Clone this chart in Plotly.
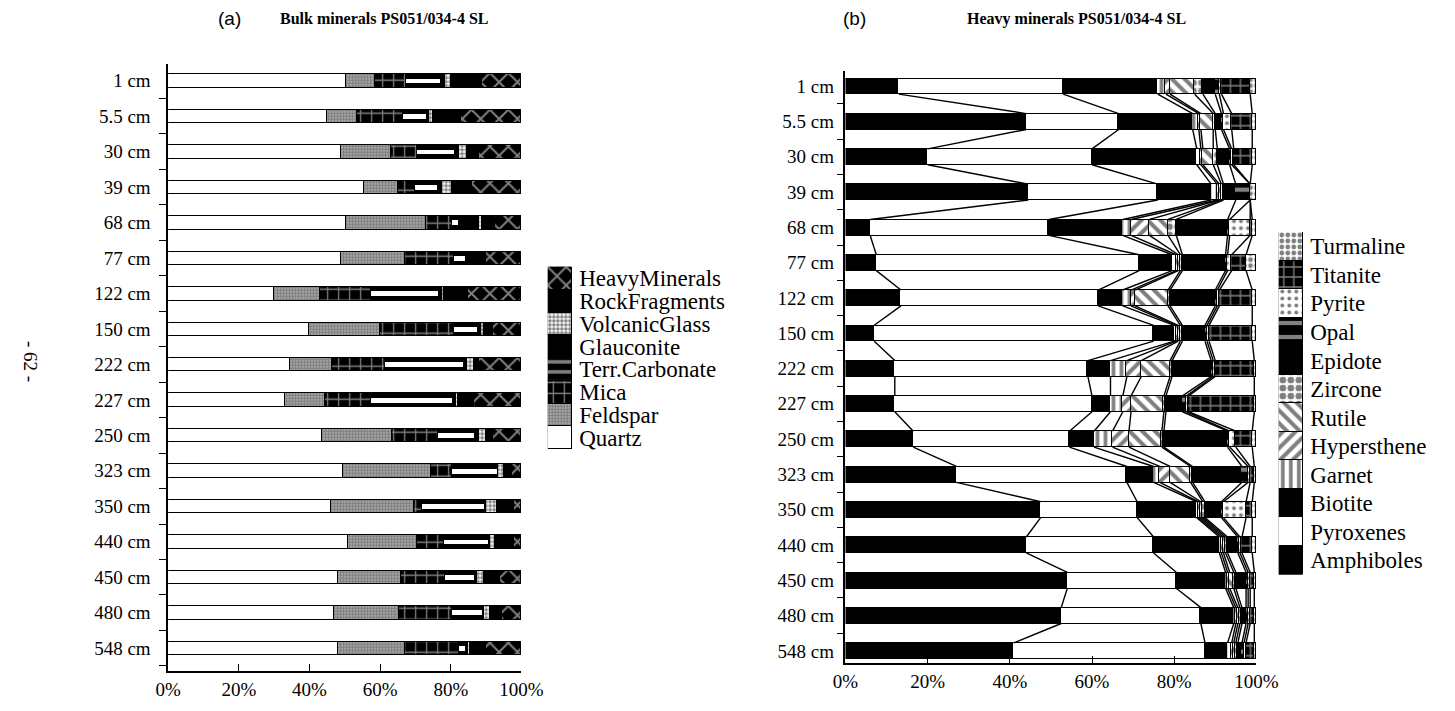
import numpy as np
import plotly.graph_objects as go

W, H = 1455, 711

# ---- data -----------------------------------------------------------------
depths = ["1 cm", "5.5 cm", "30 cm", "39 cm", "68 cm", "77 cm", "122 cm", "150 cm",
          "222 cm", "227 cm", "250 cm", "323 cm", "350 cm", "440 cm", "450 cm",
          "480 cm", "548 cm"]

# bulk mineral composition (%)
quartz = [50.5, 45, 49, 55.5, 50.5, 49, 30, 40, 34.5, 33, 43.5, 49.5, 46, 51, 48, 47, 48]
feldspar = [8, 8.5, 14, 9.5, 22.5, 18, 13, 20, 12, 11.5, 20, 25, 23.5, 19.5, 18, 18.5, 19]
mica = [9, 13, 7.5, 5, 7.5, 14, 14.5, 21, 15, 13, 13, 6, 2.5, 7.5, 12.5, 15, 15.5]
terr_carbonate = [9.5, 6.5, 10.5, 6, 1.5, 3, 19, 6.5, 22, 23, 10, 12.5, 17.5, 12.5, 8, 8.5, 1.5]
glauconite = [1.5, 1, 1.5, 1.5, 6, 2.5, 1, 1, 1, 1, 1.5, 0.5, 0.5, 0.5, 1, 0.5, 1]
volcanic_glass = [1.5, 1, 2, 3, 1, 0.5, 0.5, 1, 2, 0.5, 2, 1.5, 3, 1.5, 2, 1.5, 0.5]
rock_fragments = [9, 8, 3.5, 5.5, 3.5, 3, 7, 2.5, 1.5, 4.5, 2, 2.5, 5, 5.5, 4.5, 3.5, 4.5]
heavy_minerals = [11, 17, 12, 14, 7.5, 10, 15, 8, 12, 13.5, 8, 2.5, 2, 2, 6, 5.5, 10]

# heavy mineral composition (%)
amphiboles = [13, 44, 20, 44.5, 6, 7.5, 13.5, 7, 12, 12, 16.5, 27, 47.5, 44, 54, 52.5, 41]
pyroxenes = [40, 22.5, 40, 31.5, 43.5, 64, 48, 68, 47, 48, 38, 41.5, 23.5, 31, 26.5, 34, 46.5]
biotite = [23, 18, 25.5, 13, 18, 8, 6, 5, 5.5, 4.5, 6, 6.5, 14.5, 16, 12, 8, 5.5]
garnet = [2, 1.5, 1, 1.5, 2, 1, 2, 0.5, 4, 3, 4.5, 1.5, 0.5, 0.5, 0.5, 0.5, 1]
hypersthene = [1, 0.5, 0.5, 0.5, 4.5, 0.5, 1, 0.5, 3.5, 2, 4, 2.5, 0.5, 0.5, 0.5, 0.5, 0.5]
rutile = [6, 3, 2.5, 0.5, 4.5, 0.5, 8, 0.5, 7, 8, 8, 5, 0.5, 0.5, 1, 0.5, 0.5]
zircone = [2, 0.5, 1, 0.5, 2, 0.5, 0.5, 0.5, 0.5, 0.5, 0.5, 0.5, 0.5, 0.5, 0.5, 0.5, 0.5]
epidote = [3, 1.5, 3, 3, 12.5, 10.5, 11, 5.5, 9.5, 4, 15.5, 12, 4, 2.5, 2.5, 1, 1]
opal = [1, 0.5, 0.5, 3.5, 0.5, 0.5, 0.5, 0.5, 0.5, 1, 0.5, 1.5, 0.5, 0.5, 0.5, 0.5, 0.5]
pyrite = [0.5, 2, 0.5, 0, 5, 1, 0.5, 0.5, 0.5, 0.5, 1.5, 0.5, 5.5, 0.5, 0.5, 0.5, 0.5]
titanite = [7, 5, 4.5, 0, 0.5, 3.5, 8, 10.5, 9.5, 16, 4, 1, 1.5, 2.5, 1, 1, 2]
turmaline = [1.5, 1, 1, 1.5, 1, 2.5, 1, 1, 0.5, 0.5, 1, 0.5, 1, 1, 0.5, 0.5, 0.5]

pct_ticks = [0, 20, 40, 60, 80, 100]
pct_labels = ["0%", "20%", "40%", "60%", "80%", "100%"]

SERIF = "Liberation Serif"


# ---- fill styles ------------------------------------------------------------
def fill(bg, shape="", fg="black", size=8, solidity=0.3):
    m = dict(color=bg, line=dict(color="black", width=1))
    if shape:
        m["pattern"] = dict(shape=shape, fgcolor=fg, bgcolor=bg, size=size,
                            solidity=solidity, fillmode="overlay")
    return m


bulk = [
    ("Quartz", quartz, fill("white")),
    ("Feldspar", feldspar, fill("white", ".", "black", 3, 0.8)),
    ("Mica", mica, fill("black", "+", "white", 11, 0.22)),
    ("Terr.Carbonate", terr_carbonate, fill("black")),
    ("Glauconite", glauconite, fill("black")),
    ("VolcanicGlass", volcanic_glass, fill("white", ".", "black", 4, 0.6)),
    ("RockFragments", rock_fragments, fill("black")),
    ("HeavyMinerals", heavy_minerals, fill("black", "x", "white", 13, 0.28)),
]

heavy = [
    ("Amphiboles", amphiboles, fill("black")),
    ("Pyroxenes", pyroxenes, fill("white")),
    ("Biotite", biotite, fill("black")),
    ("Garnet", garnet, fill("white", "|", "black", 8, 0.45)),
    ("Hypersthene", hypersthene, fill("white", "/", "black", 9, 0.45)),
    ("Rutile", rutile, fill("white", "\\", "black", 9, 0.45)),
    ("Zircone", zircone, fill("white", ".", "black", 8, 0.55)),
    ("Epidote", epidote, fill("black")),
    ("Opal", opal, fill("black", "-", "white", 14, 0.3)),
    ("Pyrite", pyrite, fill("white", ".", "black", 7, 0.25)),
    ("Titanite", titanite, fill("black", "+", "white", 10, 0.25)),
    ("Turmaline", turmaline, fill("white", ".", "black", 6, 0.5)),
]

rows = list(range(len(depths)))
BULK_W = 0.38
HEAVY_W = 0.45
BULK_RANGE = [16.65, -0.48]
HEAVY_RANGE = [16.35, -0.44]

fig = go.Figure()

# ---- (a) bulk minerals -------------------------------------------------------
for name, vals, marker in bulk:
    fig.add_trace(go.Bar(x=vals, y=rows, orientation="h", width=BULK_W, name=name,
                         marker=marker, xaxis="x", yaxis="y", showlegend=False))

# thin white band running through the carbonate segment
carb_start = np.array(quartz) + np.array(feldspar) + np.array(mica)
fig.add_trace(go.Bar(x=terr_carbonate, y=rows, base=carb_start, orientation="h",
                     width=BULK_W * 0.36, marker=dict(color="white", line=dict(width=0)),
                     xaxis="x5", yaxis="y5", showlegend=False, hoverinfo="skip"))

# ---- (b) heavy minerals -----------------------------------------------------
for name, vals, marker in heavy:
    fig.add_trace(go.Bar(x=vals, y=rows, orientation="h", width=HEAVY_W, name=name,
                         marker=marker, xaxis="x2", yaxis="y2", showlegend=False))

# lines joining the component boundaries of neighbouring bars
cum = np.cumsum(np.array([v for _, v, _ in heavy], dtype=float), axis=0)
lx, ly = [], []
for k in range(cum.shape[0] - 1):
    for i in range(len(rows) - 1):
        lx += [cum[k, i], cum[k, i + 1], None]
        ly += [rows[i] + HEAVY_W / 2, rows[i + 1] - HEAVY_W / 2, None]
fig.add_trace(go.Scatter(x=lx, y=ly, mode="lines", line=dict(color="black", width=1.4),
                         xaxis="x2", yaxis="y2", showlegend=False, hoverinfo="skip"))

# ---- key columns ------------------------------------------------------------
key_bulk_style = {"Terr.Carbonate": fill("black", "-", "white", 10, 0.35)}
for name, _, marker in bulk:
    fig.add_trace(go.Bar(x=[0], y=[1], width=1, marker=key_bulk_style.get(name, marker),
                         name=name, xaxis="x3", yaxis="y3", showlegend=False))
for name, _, marker in heavy:
    fig.add_trace(go.Bar(x=[0], y=[1], width=1, marker=marker, name=name,
                         xaxis="x4", yaxis="y4", showlegend=False))

tickfont = dict(family=SERIF, size=19, color="black")
minor_ticks = dict(tickmode="array", tickvals=[r - 0.5 for r in rows] + [rows[-1] + 0.5],
                   ticks="outside", ticklen=7, tickcolor="black", tickwidth=1.2)


def x_axis(domain, anchor):
    return dict(domain=domain, anchor=anchor, range=[0, 100], tickmode="array",
                tickvals=pct_ticks, ticktext=pct_labels, ticks="inside", ticklen=7,
                tickcolor="black", showline=True, linecolor="black", linewidth=1.5,
                showgrid=False, zeroline=False, tickfont=tickfont, fixedrange=True)


def y_axis(domain, anchor, rng, standoff):
    return dict(domain=domain, anchor=anchor, range=rng, tickmode="array",
                tickvals=rows, ticktext=depths, ticks="", showline=True,
                linecolor="black", linewidth=1.5, showgrid=False, zeroline=False,
                tickfont=tickfont, minor=minor_ticks, ticklabelstandoff=standoff,
                fixedrange=True)


def key_axes(xdom, ydom, names, size, xname, yname):
    xa = dict(domain=xdom, range=[-0.5, 0.5], visible=False, fixedrange=True, anchor=yname)
    ya = dict(domain=ydom, range=[0, len(names)], side="right", tickmode="array",
              tickvals=[i + 0.5 for i in range(len(names))], ticktext=names,
              ticks="", showline=False, showgrid=False, zeroline=False, anchor=xname,
              tickfont=dict(family=SERIF, size=size, color="black"),
              ticklabelstandoff=6, fixedrange=True)
    return xa, ya


xa3, ya3 = key_axes([548 / W, 573 / W], [1 - 450 / H, 1 - 267 / H],
                    [b[0] for b in bulk], 23, "x3", "y3")
xa4, ya4 = key_axes([1297 / W, 1322 / W], [1 - 576 / H, 1 - 232 / H],
                    [h[0] for h in heavy], 23, "x4", "y4")

fig.update_layout(
    width=W, height=H,
    margin=dict(l=0, r=0, t=0, b=0),
    paper_bgcolor="white", plot_bgcolor="white",
    barmode="stack", bargap=0,
    font=dict(family=SERIF, color="black"),
    xaxis=x_axis([159 / W, 521 / W], "y"),
    yaxis=y_axis([1 - 673 / H, 1 - 63 / H], "x", BULK_RANGE, 12),
    xaxis2=x_axis([853 / W, 1274 / W], "y2"),
    yaxis2=y_axis([1 - 665 / H, 1 - 70 / H], "x2", HEAVY_RANGE, 6),
    xaxis3=xa3, yaxis3=ya3, xaxis4=xa4, yaxis4=ya4,
    xaxis5=dict(overlaying="x", anchor="y5", range=[0, 100], visible=False, fixedrange=True),
    yaxis5=dict(overlaying="y", anchor="x5", range=BULK_RANGE, visible=False, fixedrange=True),
)

title_font = dict(family=SERIF, size=16, color="black")
label_font = dict(family="Liberation Sans", size=19, color="black")
ann = dict(xref="paper", yref="paper", showarrow=False, xanchor="center", yanchor="middle")
fig.add_annotation(text="(a)", x=222 / W, y=1 - 18 / H, font=label_font, **ann)
fig.add_annotation(text="<b>Bulk minerals PS051/034-4 SL</b>", x=380 / W, y=1 - 18 / H,
                   font=title_font, **ann)
fig.add_annotation(text="(b)", x=862 / W, y=1 - 18 / H, font=label_font, **ann)
fig.add_annotation(text="<b>Heavy minerals PS051/034-4 SL</b>", x=1090 / W, y=1 - 18 / H,
                   font=title_font, **ann)
fig.add_annotation(text="- 62 -", x=18 / W, y=1 - 362 / H, textangle=90,
                   font=dict(family=SERIF, size=19, color="black"), **ann)

fig.write_html("out.html")
